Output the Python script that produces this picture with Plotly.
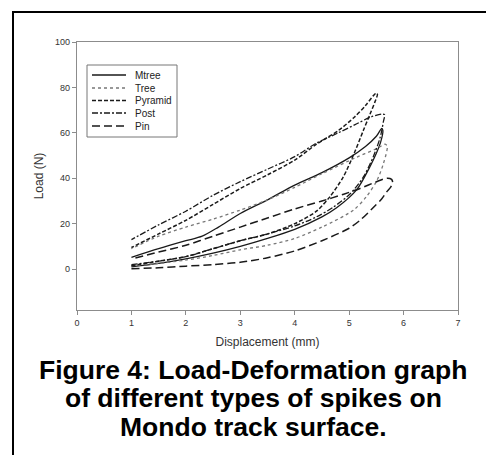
import plotly.graph_objects as go

# ---- data (Displacement mm, Load N) ----
# each loop: lower branch from x=1 to the peak, then the upper branch back to x=1
mtree_x = [1.0, 1.5, 2.0, 2.5, 3.0, 3.5, 4.0, 4.5, 4.77, 5.14, 5.38, 5.5, 5.58, 5.62,
           5.6, 5.5, 5.3, 5.0, 4.5, 4.0, 3.5, 3.0, 2.6, 2.3, 2.0, 1.5, 1.0]
mtree_y = [1.0, 2.5, 4.5, 7.0, 10.0, 13.5, 17.5, 23.0, 27.0, 35.0, 45.0, 51.0, 56.0, 61.0,
           62.0, 58.5, 54.0, 49.0, 42.5, 37.0, 30.5, 24.5, 18.5, 14.5, 12.5, 9.0, 5.2]

tree_x = [1.0, 1.5, 2.0, 2.5, 3.0, 3.5, 4.0, 4.5, 5.08, 5.32, 5.51, 5.63, 5.7,
          5.66, 5.5, 5.14, 4.5, 4.0, 3.5, 3.0, 2.5, 2.0, 1.5, 1.0]
tree_y = [1.5, 2.5, 4.0, 6.0, 8.5, 10.5, 13.5, 18.5, 26.0, 32.0, 39.0, 46.5, 54.0,
          55.0, 53.0, 49.3, 42.0, 36.0, 30.5, 26.0, 22.0, 18.5, 14.5, 9.0]

pyramid_x = [1.0, 1.5, 2.0, 2.5, 3.0, 3.5, 4.0, 4.4, 4.65, 4.89, 5.11, 5.26, 5.38, 5.48, 5.52,
             5.5, 5.45, 5.3, 5.1, 4.8, 4.4, 4.0, 3.5, 3.0, 2.5, 2.0, 1.5, 1.0]
pyramid_y = [1.5, 3.5, 5.5, 9.0, 12.5, 15.5, 20.0, 25.5, 32.0, 40.5, 52.0, 61.0, 68.0, 74.0, 77.0,
             77.5, 76.5, 72.0, 67.0, 61.0, 55.0, 48.0, 41.5, 35.5, 28.5, 21.5, 15.5, 9.5]

post_x = [1.0, 1.5, 2.0, 2.5, 3.0, 3.5, 4.0, 4.4, 4.71, 5.02, 5.26, 5.44, 5.57, 5.63, 5.65,
          5.6, 5.4, 5.1, 4.8, 4.4, 4.0, 3.5, 3.0, 2.5, 2.0, 1.5, 1.0]
post_y = [2.0, 3.5, 5.5, 9.0, 12.5, 15.5, 19.0, 23.0, 27.3, 33.2, 40.5, 49.3, 58.0, 65.0, 68.0,
          68.3, 67.0, 63.5, 60.0, 55.5, 49.5, 44.0, 38.5, 32.5, 25.5, 19.5, 13.0]

pin_x = [1.0, 1.5, 2.0, 2.5, 3.0, 3.5, 4.0, 4.5, 5.0, 5.2, 5.44, 5.6, 5.69, 5.76, 5.8, 5.78,
         5.7, 5.5, 5.2, 4.9, 4.5, 4.0, 3.5, 3.0, 2.5, 2.0, 1.5, 1.0]
pin_y = [0.2, 0.6, 1.3, 2.0, 3.0, 5.0, 8.0, 12.5, 18.0, 21.5, 27.0, 31.0, 34.0, 36.0, 38.0, 39.5,
         40.0, 38.5, 35.5, 33.0, 30.0, 26.5, 22.5, 18.5, 14.5, 10.5, 7.5, 4.5]

series_names = ["Mtree", "Tree", "Pyramid", "Post", "Pin"]
x_ticks = [0, 1, 2, 3, 4, 5, 6, 7]
y_ticks = [0, 20, 40, 60, 80, 100]
caption = ["Figure 4: Load-Deformation graph",
           "of different types of spikes on",
           "Mondo track surface."]

FONT = "Liberation Sans, Arial, sans-serif"

styles = {
    "Mtree": dict(color="#1a1a1a", dash="solid", width=1.3),
    "Tree": dict(color="#777777", dash="dot", width=1.3),
    "Pyramid": dict(color="#1a1a1a", dash="4px,2px", width=1.5),
    "Post": dict(color="#1a1a1a", dash="6px,2px,2px,2px", width=1.3),
    "Pin": dict(color="#1a1a1a", dash="8px,4px", width=1.5),
}
data = {
    "Mtree": (mtree_x, mtree_y),
    "Tree": (tree_x, tree_y),
    "Pyramid": (pyramid_x, pyramid_y),
    "Post": (post_x, post_y),
    "Pin": (pin_x, pin_y),
}

# plot-area pixel geometry (figure 486x455)
L, R, T, B = 77, 28, 42, 145
PW, PH = 486 - L - R, 455 - T - B
def px(xpix):
    return (xpix - L) / PW
def py(ypix):
    return (455 - B - ypix) / PH

fig = go.Figure()
for name in series_names:
    xs, ys = data[name]
    fig.add_trace(go.Scatter(x=xs, y=ys, mode="lines", name=name, showlegend=False,
                             line=dict(shape="spline", smoothing=0.8, **styles[name])))

axis_common = dict(showgrid=False, zeroline=False, showline=True, mirror=True,
                   linecolor="#8c8c8c", linewidth=1.2, ticks="outside", ticklen=4,
                   tickcolor="#8c8c8c", tickwidth=1,
                   tickfont=dict(family=FONT, size=9, color="#333333"))

fig.update_layout(
    width=486, height=455,
    margin=dict(l=L, r=R, t=T, b=B),
    paper_bgcolor="white", plot_bgcolor="white",
    font=dict(family=FONT, color="#333333"),
    xaxis=dict(range=[0, 7], tickvals=x_ticks,
               title=dict(text="Displacement (mm)", font=dict(family=FONT, size=12, color="#333333"),
                          standoff=10),
               **axis_common),
    yaxis=dict(range=[-18, 100], tickvals=y_ticks,
               title=dict(text="Load (N)", font=dict(family=FONT, size=12, color="#333333"),
                          standoff=8),
               **axis_common),
    showlegend=False,
)

# compact legend box (drawn as in the reference: border, line samples, labels)
fig.add_shape(type="rect", xref="paper", yref="paper",
              x0=px(87), x1=px(177), y0=py(137), y1=py(65),
              line=dict(color="#777777", width=1), fillcolor="white", layer="above")
entry_y = [75, 88, 100.5, 113, 126]
for name, ey in zip(series_names, entry_y):
    st = styles[name]
    fig.add_shape(type="line", xref="paper", yref="paper",
                  x0=px(92), x1=px(126), y0=py(ey), y1=py(ey),
                  line=dict(color=st["color"], dash=st["dash"], width=st["width"]), layer="above")
    fig.add_annotation(text=name, xref="paper", yref="paper", x=px(133), y=py(ey),
                       xanchor="left", yanchor="middle", showarrow=False,
                       font=dict(family=FONT, size=10, color="#222222"))

# outer black frame of the figure panel
fig.add_shape(type="rect", xref="paper", yref="paper",
              x0=px(13), x1=px(495), y0=py(470), y1=py(12),
              line=dict(color="black", width=2), fillcolor="rgba(0,0,0,0)", layer="below")

cap_y = [370, 398, 427]
for txt, cy in zip(caption, cap_y):
    fig.add_annotation(text="<b>" + txt + "</b>", xref="paper", yref="paper",
                       x=px(253), y=py(cy), xanchor="center", yanchor="middle",
                       showarrow=False, font=dict(family=FONT, size=26.5, color="black"))

fig.write_html("out.html")
